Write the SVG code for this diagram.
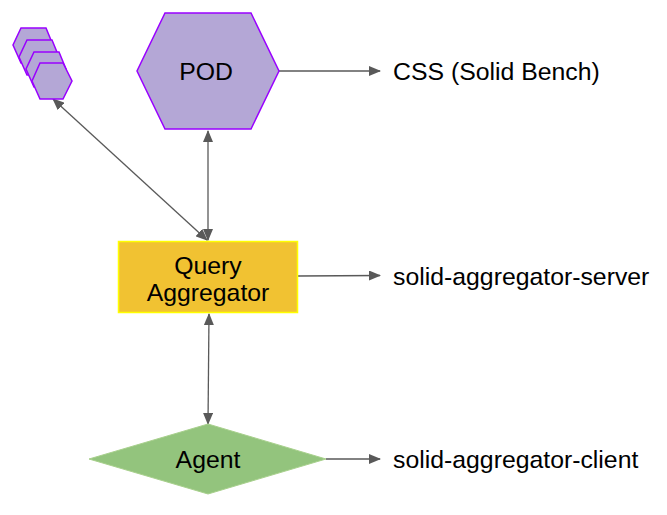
<svg xmlns="http://www.w3.org/2000/svg" width="667" height="515" viewBox="0 0 667 515">
<style>
.hex{fill:#b4a7d6;stroke:#9900ff;stroke-width:1.5}
.lbl{font-family:"Liberation Sans",Arial,sans-serif;font-size:24.8px;fill:#000}
.edge{stroke:#595959;stroke-width:1.3;fill:none}
</style>
<defs>
<marker id="ah" viewBox="0 0 12 10" refX="11" refY="5" markerWidth="12" markerHeight="10" markerUnits="userSpaceOnUse" orient="auto-start-reverse">
<path d="M0,0 L12,5 L0,10 Z" fill="#595959"/>
</marker>
</defs>
<g id="connectors">
<line class="edge" x1="279" y1="71" x2="380" y2="71" marker-end="url(#ah)"/>
<line class="edge" x1="298" y1="276" x2="380" y2="275.5" marker-end="url(#ah)"/>
<line class="edge" x1="326" y1="459" x2="380" y2="459" marker-end="url(#ah)"/>
<line class="edge" x1="208" y1="131" x2="208" y2="240" marker-start="url(#ah)" marker-end="url(#ah)"/>
<line class="edge" x1="53" y1="99" x2="207" y2="240" marker-start="url(#ah)" marker-end="url(#ah)"/>
<line class="edge" x1="209" y1="314" x2="208" y2="424" marker-start="url(#ah)" marker-end="url(#ah)"/>
</g>
<g id="pods">
<polygon class="hex" points="21,28 46,28 53,45 46,63 21,63 13,45"/>
<polygon class="hex" points="27,40 52,40 59,57 52,75 27,75 19,57"/>
<polygon class="hex" points="34,52 59,52 66,69 59,87 34,87 26,69"/>
<polygon class="hex" points="40,63 63,63 72,81 63,99 40,99 32,81"/>
</g>
<g id="pod">
<polygon class="hex" points="165,13 251,13 279,71 251,129 165,129 137,71"/>
<text class="lbl" x="206" y="80" text-anchor="middle">POD</text>
</g>
<g id="css">
<text class="lbl" x="393" y="80">CSS (Solid Bench)</text>
</g>
<g id="aggregator">
<rect x="118.5" y="241.5" width="179" height="71" fill="#f1c232" stroke="#ffff00" stroke-width="1.5"/>
<text class="lbl" x="208" y="274" text-anchor="middle">Query</text>
<text class="lbl" x="208" y="301" text-anchor="middle">Aggregator</text>
</g>
<g id="server">
<text class="lbl" x="393" y="285">solid-aggregator-server</text>
</g>
<g id="agent">
<polygon points="208,424 326,459 208,494 89,459" fill="#93c47d" stroke="#a8d08d" stroke-width="1"/>
<text class="lbl" x="208" y="468" text-anchor="middle">Agent</text>
</g>
<g id="client">
<text class="lbl" x="393" y="468">solid-aggregator-client</text>
</g>
</svg>
